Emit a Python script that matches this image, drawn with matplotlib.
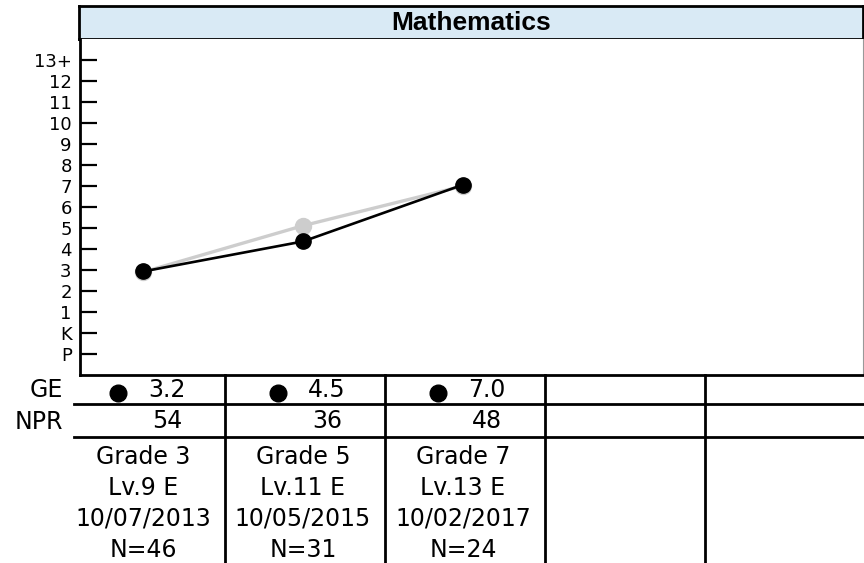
import matplotlib.pyplot as plt

# data
cols = [0, 1, 2]
ge_plot = [2.93, 4.36, 7.06]      # black line (GE)
gray_plot = [2.9, 5.11, 7.0]      # gray reference line
ge_text = ['3.2', '4.5', '7.0']
npr_text = ['54', '36', '48']
grades = ['Grade 3', 'Grade 5', 'Grade 7']
levels = ['Lv.9 E', 'Lv.11 E', 'Lv.13 E']
dates = ['10/07/2013', '10/05/2015', '10/02/2017']
counts = ['N=46', 'N=31', 'N=24']
ytick_vals = list(range(-1, 14))
ytick_labels = ['P', 'K'] + [str(i) for i in range(1, 13)] + ['13+']
n_slots = 5

W, H = 864, 563
fig = plt.figure(figsize=(W / 100, H / 100), dpi=100)
plt.rcParams['font.family'] = ['DejaVu Sans']

def px(x):           # pixel column -> column units
    return (x - 143) / 160.0

def fx(x0, y0, x1, y1):  # pixel box -> figure fraction
    return [x0 / W, 1 - y1 / H, (x1 - x0) / W, (y1 - y0) / H]

# title bar
tax = fig.add_axes(fx(79, 6, 863, 39))
tax.set_facecolor('#d9eaf5')
tax.set_xticks([])
tax.set_yticks([])
for s in tax.spines.values():
    s.set_linewidth(2)
tax.text(0.5, 0.47, 'Mathematics', ha='center', va='center', fontsize=19,
         fontweight='bold', family='Liberation Sans', transform=tax.transAxes)

# main plot
ax = fig.add_axes(fx(80, 39, 863, 375))
ax.set_xlim(px(80), px(863))
ax.set_ylim(-2, 14)
ax.plot(cols, gray_plot, color='#cdcdcd', lw=2.4, marker='o', ms=11.5,
        mec='#cdcdcd', mfc='#cdcdcd', zorder=2)
ax.plot(cols, ge_plot, color='black', lw=1.9, marker='o', ms=11, zorder=3)
ax.set_xticks([])
ax.set_yticks(ytick_vals)
ax.set_yticklabels(ytick_labels, fontsize=13)
ax.tick_params(axis='y', direction='in', length=12, width=1.6, pad=6)
ax.spines['left'].set_linewidth(2)
ax.spines['bottom'].set_linewidth(2)
ax.spines['top'].set_visible(False)
ax.spines['right'].set_color('#999999')
ax.spines['right'].set_linewidth(0.8)

# table below
tb = fig.add_axes(fx(0, 375, W, H))
tb.set_xlim(px(0), px(W))
tb.set_ylim(H, 375)
tb.axis('off')
fs = 17
for k in range(n_slots - 1):
    tb.plot([k + 0.51, k + 0.51], [375, H], color='black', lw=2, clip_on=False)
for yy in [404, 437]:
    tb.plot([px(74), px(W)], [yy, yy], color='black', lw=2, clip_on=False)
tb.text(px(63), 390, 'GE', ha='right', va='center', fontsize=fs)
tb.text(px(63), 422, 'NPR', ha='right', va='center', fontsize=fs)
for i in cols:
    tb.plot(i - 0.155, 393, 'o', color='black', ms=12)
    tb.text(i + 0.15, 390, ge_text[i], ha='center', va='center', fontsize=fs)
    tb.text(i + 0.15, 421, npr_text[i], ha='center', va='center', fontsize=fs)
    for j, t in enumerate([grades[i], levels[i], dates[i], counts[i]]):
        tb.text(i, 457 + 31 * j, t, ha='center', va='center', fontsize=fs)

fig.savefig('out.png', dpi=100)
